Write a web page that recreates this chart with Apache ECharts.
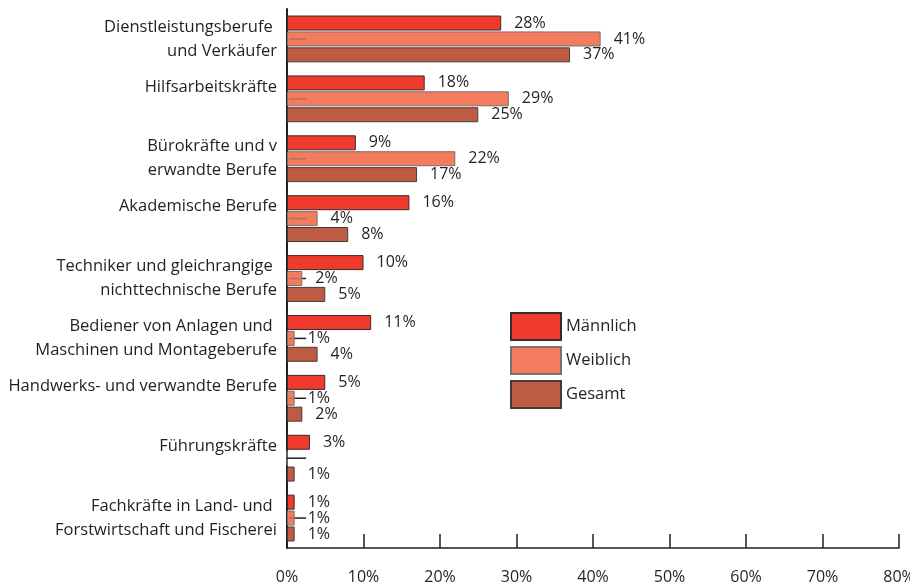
<!DOCTYPE html>
<html>
<head>
<meta charset="utf-8">
<script src="https://cdn.jsdelivr.net/npm/echarts@6/dist/echarts.min.js"></script>
<style>
  html, body { margin: 0; padding: 0; background: #fff; }
  #chart { width: 910px; height: 587px; }
</style>
</head>
<body>
<div id="chart"></div>
<script>
// Occupational groups (top to bottom); second line kept for vertical alignment
const categories = [
  'Dienstleistungsberufe \nund Verkäufer',
  'Hilfsarbeitskräfte\n ',
  'Bürokräfte und v\nerwandte Berufe',
  'Akademische Berufe\n ',
  'Techniker und gleichrangige \nnichttechnische Berufe',
  'Bediener von Anlagen und \nMaschinen und Montageberufe',
  'Handwerks- und verwandte Berufe\n ',
  'Führungskräfte\n ',
  'Fachkräfte in Land- und \nForstwirtschaft und Fischerei'
];

// Shares in percent
const maennlich = [28, 18, 9, 16, 10, 11, 5, 3, 1];
const weiblich  = [41, 29, 22, 4, 2, 1, 1, 0, 1];
const gesamt    = [37, 25, 17, 8, 5, 4, 2, 1, 1];

const xTicks = [0, 10, 20, 30, 40, 50, 60, 70, 80];

// Length of the leader tick drawn at the middle bar of each group (in %)
const leaderLength = 2.5;

const FONT = 'Open Sans';
const TEXT = '#231f20';

const chart = echarts.init(document.getElementById('chart'), null, { renderer: 'canvas' });

const barLabel = {
  show: true,
  position: 'right',
  distance: 13,
  fontFamily: FONT,
  fontSize: 16,
  color: TEXT,
  formatter: p => (p.value > 0 ? p.value + '%' : '')
};

chart.setOption({
  animation: false,
  backgroundColor: '#fff',
  textStyle: { fontFamily: FONT },
  grid: {
    left: 287, right: 11, top: 9, bottom: 39,
    containLabel: false,
    outerBoundsMode: 'none'
  },
  legend: {
    data: ['Männlich', 'Weiblich', 'Gesamt'],
    orient: 'vertical',
    left: 505,
    top: 307,
    itemWidth: 50,
    itemHeight: 27,
    itemGap: 5,
    icon: 'rect',
    textStyle: { fontFamily: FONT, fontSize: 16.5, color: TEXT, padding: [0, 0, 0, 0] }
  },
  xAxis: {
    type: 'value',
    min: xTicks[0],
    max: xTicks[xTicks.length - 1],
    interval: 10,
    splitLine: { show: false },
    axisLine: { show: true, lineStyle: { color: '#231f20', width: 1.5 } },
    axisTick: { show: true, inside: true, length: 14, lineStyle: { color: '#231f20', width: 1.5 } },
    axisLabel: {
      margin: 21,
      fontFamily: FONT,
      fontSize: 16,
      color: TEXT,
      showMaxLabel: true,
      hideOverlap: false,
      formatter: v => v + '%'
    }
  },
  yAxis: {
    type: 'category',
    data: categories,
    inverse: true,
    axisLine: { show: true, lineStyle: { color: '#231f20', width: 2 } },
    axisTick: { show: false },
    axisLabel: {
      margin: 10,
      fontFamily: FONT,
      fontSize: 16.5,
      lineHeight: 24,
      color: TEXT,
      align: 'right'
    }
  },
  series: [
    {
      name: 'Männlich',
      type: 'bar',
      data: maennlich,
      barWidth: 15,
      barGap: '6%',
      itemStyle: { color: '#ee3b2d', borderColor: '#3a2a28', borderWidth: 1 },
      label: barLabel
    },
    {
      name: 'Weiblich',
      type: 'bar',
      data: weiblich,
      barWidth: 15,
      barGap: '6%',
      itemStyle: { color: '#f37b5e', borderColor: '#7a7070', borderWidth: 1 },
      label: barLabel
    },
    {
      name: 'Gesamt',
      type: 'bar',
      data: gesamt,
      barWidth: 15,
      barGap: '6%',
      itemStyle: { color: '#bd5b43', borderColor: '#4a3a36', borderWidth: 1 },
      label: barLabel
    },
    {
      // leader ticks at the middle (Weiblich) bar of every group
      name: 'leader',
      type: 'custom',
      z: 5,
      silent: true,
      data: weiblich.map((v, i) => [v, i]),
      renderItem: function (params, api) {
        const v = api.value(0);
        const i = api.value(1);
        const start = api.coord([0, i]);
        const end = api.coord([leaderLength, i]);
        const barEnd = api.coord([Math.min(v, leaderLength), i]);
        const children = [];
        if (v > 0) {
          children.push({
            type: 'line',
            shape: { x1: start[0] + 2, y1: start[1], x2: barEnd[0], y2: start[1] },
            style: { stroke: '#b0705e', lineWidth: 1.5 }
          });
        }
        if (v < leaderLength) {
          children.push({
            type: 'line',
            shape: { x1: barEnd[0], y1: start[1], x2: end[0], y2: start[1] },
            style: { stroke: '#231f20', lineWidth: 1.5 }
          });
        }
        return { type: 'group', children: children };
      }
    }
  ]
});
</script>
</body>
</html>
